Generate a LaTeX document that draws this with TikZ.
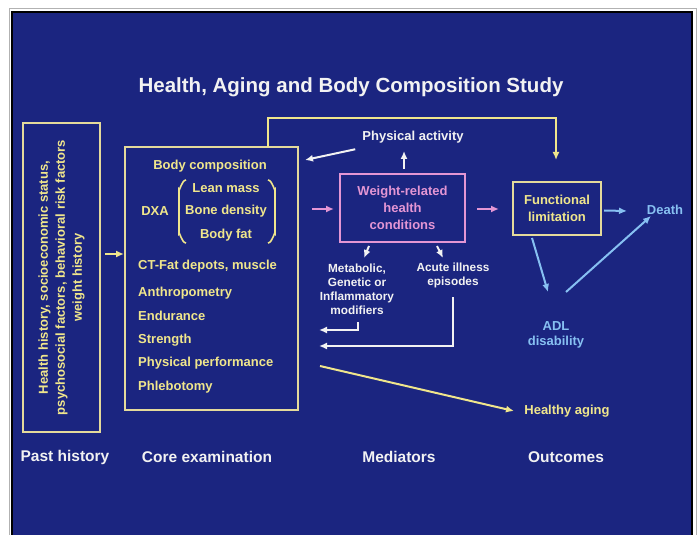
\documentclass[tikz,border=0pt]{standalone}
\usepackage{fontspec}
\setmainfont{Liberation Sans}
\usepackage{xcolor}
\usetikzlibrary{arrows.meta, positioning}

\definecolor{slideblue}{RGB}{27,37,128}
\definecolor{paleyellow}{RGB}{240,230,140}
\definecolor{boxline}{RGB}{228,218,155}
\definecolor{pinkish}{RGB}{228,150,212}
\definecolor{skyblue}{RGB}{135,192,242}
\definecolor{offwhite}{RGB}{242,242,242}

\begin{document}
\begin{tikzpicture}[
        x=1bp, y=-1bp,
        txt/.style={font=\bfseries\fontsize{13bp}{17bp}\selectfont, inner sep=1pt, align=center},
        ytxt/.style={txt, text=paleyellow},
        wtxt/.style={txt, text=offwhite},
        btxt/.style={txt, text=skyblue},
        smalltxt/.style={wtxt, font=\bfseries\fontsize{11.8bp}{14bp}\selectfont},
        headtxt/.style={wtxt, font=\bfseries\fontsize{15.5bp}{18bp}\selectfont},
        ybox/.style={draw=boxline, line width=2bp},
        pbox/.style={draw=pinkish, line width=2bp},
        arrow/.style={-{Latex[length=8bp, width=7bp]}, line width=2bp},
        yarrow/.style={arrow, color=paleyellow},
        warrow/.style={arrow, color=offwhite},
        parrow/.style={arrow, color=pinkish},
        barrow/.style={arrow, color=skyblue}
    ]
    \useasboundingbox (0,0) rectangle (700,535);
    % slide background
    \fill[white] (0,0) rectangle (700,535);
    \draw[gray!60, line width=1bp] (9,9) rectangle (696,560);
    \draw[black, line width=2.5bp, fill=slideblue] (12,12) rectangle (692,560);

    \node[wtxt, font=\bfseries\fontsize{20.5bp}{24bp}\selectfont] (title) at (351,87) {Health, Aging and Body Composition Study};

    % past history
    \node[ybox, ytxt, rotate=90, minimum width=309bp, minimum height=77bp] (past) at (61.5,277.5)
        {Health history, socioeconomic status,\\psychosocial factors, behavioral risk factors\\weight history};

    % core examination
    \node[ybox, minimum width=173bp, minimum height=263bp] (core) at (211.5,278.5) {};
    \node[ytxt] (bodycomp) at (210,166) {Body composition};
    \node[ytxt] (dxa) at (155,211) {DXA};
    \node[ytxt] (lean) at (226,188) {Lean mass};
    \node[ytxt] (bone) at (226,211) {Bone density};
    \node[ytxt] (fat) at (226,235) {Body fat};
    \draw[paleyellow, line width=1.6bp] (186,180) to[out=180, in=-90] (179,189) -- (179,234) to[out=90, in=180] (186,243);
    \draw[paleyellow, line width=1.6bp] (268,180) to[out=0, in=-90] (275,189) -- (275,234) to[out=90, in=0] (268,243);
    \node[ytxt, anchor=west] (ctfat) at (137,266) {CT-Fat depots, muscle};
    \node[ytxt, anchor=west] (anthro) at (137,293) {Anthropometry};
    \node[ytxt, anchor=west] (endur) at (137,316) {Endurance};
    \node[ytxt, anchor=west] (strength) at (137,340) {Strength};
    \node[ytxt, anchor=west] (perf) at (137,363) {Physical performance};
    \node[ytxt, anchor=west] (phleb) at (137,387) {Phlebotomy};

    % mediators
    \node[wtxt] (physact) at (413,137) {Physical activity};
    \node[pbox, txt, text=pinkish, minimum width=125bp, minimum height=68bp] (weight) at (402.5,208) {Weight-related\\health\\conditions};
    \node[smalltxt] (modif) at (357,289) {Metabolic,\\Genetic or\\Inflammatory\\modifiers};
    \node[smalltxt] (acute) at (453,275) {Acute illness\\episodes};

    % outcomes
    \node[ybox, ytxt, minimum width=88bp, minimum height=53bp] (func) at (557,208.5) {Functional\\limitation};
    \node[btxt] (death) at (665,210) {Death};
    \node[btxt, font=\bfseries\fontsize{13bp}{15bp}\selectfont] (adl) at (556,334.5) {ADL\\disability};
    \node[ytxt] (healthy) at (567,411) {Healthy aging};

    % column heads
    \node[headtxt] (hpast) at (65,457) {Past history};
    \node[headtxt] (hcore) at (207,457) {Core examination};
    \node[headtxt] (hmed) at (399,457) {Mediators};
    \node[headtxt] (hout) at (566,457) {Outcomes};

    % connectors
    \coordinate (loopa) at (268,147);
    \coordinate (loopb) at (556,160);
    \draw[yarrow] (105,254) -- (core.west |- 0,254);
    \draw[yarrow] (loopa) |- (268,118) -| (loopb);
    \draw[warrow] (physact.south west) ++(-6,5) -- (305,160);
    \draw[warrow] (weight.north -| 404,0) ++(0,-4) -- (404,151);
    \draw[parrow] (312,209) -- (334,209);
    \draw[parrow] (477,209) -- (499,209);
    \draw[warrow] (369,246) -- (364,258);
    \draw[warrow] (437,246) -- (443,258);
    \draw[warrow] (358,322) |- (319,330);
    \draw[warrow] (453,297) |- (319,346);
    \draw[barrow] (func.east) ++(2,2) -- (627,211);
    \draw[barrow] (532,238) -- (548,292);
    \draw[barrow] (566,292) -- (651,216);
    \draw[yarrow] (320,366) -- (514,411);
\end{tikzpicture}
\end{document}
